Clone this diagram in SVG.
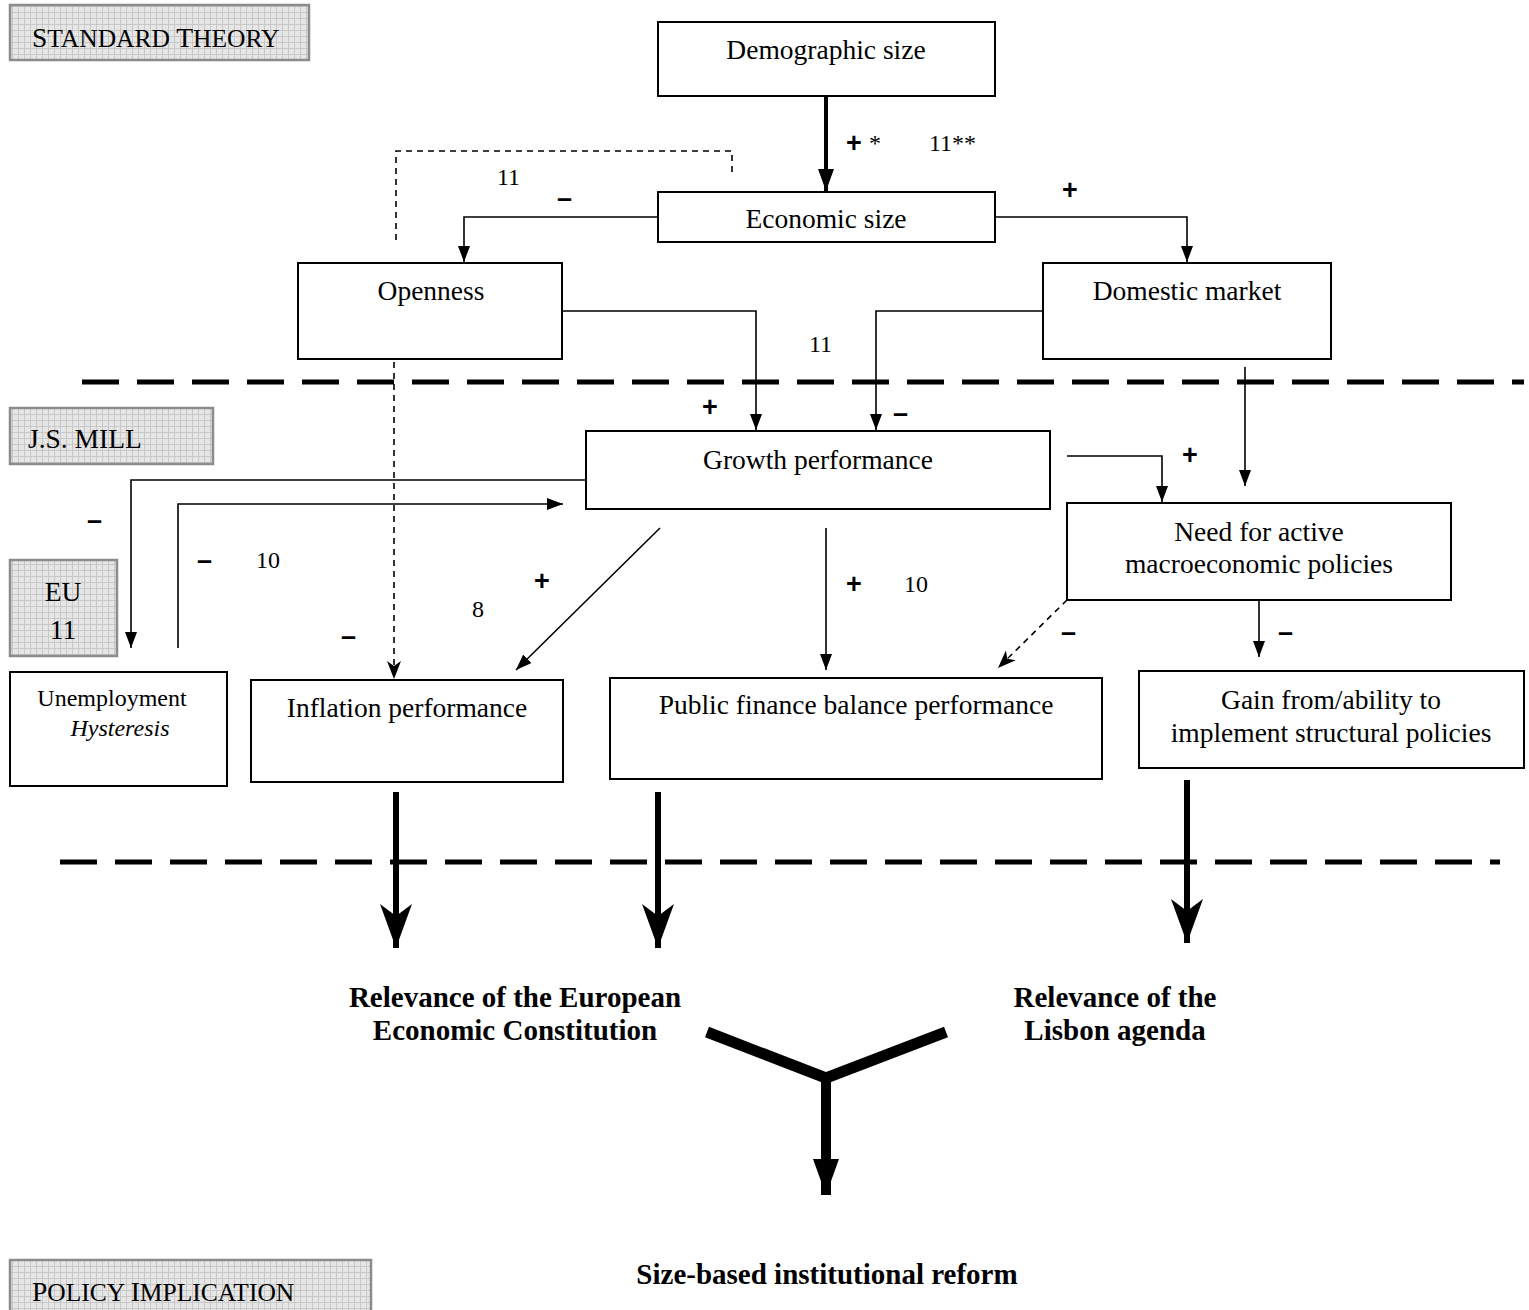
<svg xmlns="http://www.w3.org/2000/svg" width="1529" height="1310" viewBox="0 0 1529 1310">
<defs>
<pattern id="grid" width="6" height="6" patternUnits="userSpaceOnUse">
<rect width="6" height="6" fill="#e6e6e6"/>
<path d="M0,0.5 H6 M0.5,0 V6" stroke="#c8c8c8" stroke-width="1"/>
</pattern>
<marker id="ah" viewBox="0 0 16 12" markerWidth="16" markerHeight="12" refX="16" refY="6" orient="auto" markerUnits="userSpaceOnUse">
<path d="M0,0 L16,6 L0,12 z" fill="#000"/>
</marker>
<marker id="ahd" viewBox="0 0 18 14" markerWidth="18" markerHeight="14" refX="18" refY="7" orient="auto" markerUnits="userSpaceOnUse">
<path d="M0,0 L18,7 L0,14 L5,7 z" fill="#000"/>
</marker>
<marker id="ahk" viewBox="0 0 22 16" markerWidth="22" markerHeight="16" refX="22" refY="8" orient="auto" markerUnits="userSpaceOnUse">
<path d="M0,0 L22,8 L0,16 z" fill="#000"/>
</marker>
<marker id="ahb" viewBox="0 0 44 32" markerWidth="44" markerHeight="32" refX="44" refY="16" orient="auto" markerUnits="userSpaceOnUse">
<path d="M0,0 L44,16 L0,32 L12,16 z" fill="#000"/>
</marker>
<marker id="ahy" viewBox="0 0 36 26" markerWidth="36" markerHeight="26" refX="36" refY="13" orient="auto" markerUnits="userSpaceOnUse">
<path d="M0,0 L36,13 L0,26 z" fill="#000"/>
</marker>
</defs>
<style>
.lbl{fill:url(#grid);stroke:#8c8c8c;stroke-width:2.5}
.node{fill:#fff;stroke:#000;stroke-width:2}
.t{font-family:"Liberation Serif","Times New Roman",serif;font-size:27.5px;fill:#000}
.tc{text-anchor:middle}
.n{font-family:"Liberation Serif","Times New Roman",serif;font-size:24px;fill:#000}
.sm{font-family:"Liberation Serif","Times New Roman",serif;font-size:24px;fill:#000}
.b{font-family:"Liberation Serif","Times New Roman",serif;font-size:29px;font-weight:bold;fill:#000;text-anchor:middle}
.sign{font-family:"Liberation Sans",Arial,sans-serif;font-size:27px;font-weight:bold;fill:#000}
.c{fill:none;stroke:#000;stroke-width:1.6}
.cd{fill:none;stroke:#000;stroke-width:1.6;stroke-dasharray:6,5}
.sep{fill:none;stroke:#000;stroke-width:5;stroke-dasharray:37,18}
.thick{fill:none;stroke:#000;stroke-width:6}
</style>

<g id="label-standard-theory">
<rect class="lbl" x="10" y="5" width="299" height="55"/>
<text class="t" x="32" y="47" font-size="34"><tspan>S</tspan><tspan font-size="25.5">TANDARD </tspan><tspan>T</tspan><tspan font-size="25.5">HEORY</tspan></text>
</g>
<g id="label-js-mill">
<rect class="lbl" x="10" y="408" width="203" height="56"/>
<text class="t" x="28" y="448" font-size="35">J.S. MILL</text>
</g>
<g id="label-eu11">
<rect class="lbl" x="10" y="560" width="107" height="96"/>
<text class="t tc" x="63" y="601" font-size="34">EU</text>
<text class="t tc" x="63" y="639" font-size="34">11</text>
</g>
<g id="label-policy">
<rect class="lbl" x="10" y="1260" width="361" height="60"/>
<text class="t" x="32" y="1301" font-size="34"><tspan>P</tspan><tspan font-size="25.5">OLICY </tspan><tspan>I</tspan><tspan font-size="25.5">MPLICATION</tspan></text>
</g>

<g id="separators">
<line class="sep" x1="82" y1="382" x2="1524" y2="382"/>
<line class="sep" x1="60" y1="862" x2="1500" y2="862"/>
</g>

<g id="connectors">
<line x1="826" y1="96" x2="826" y2="191" stroke="#000" stroke-width="4" marker-end="url(#ahk)"/>
<path class="cd" d="M396,240 V151 H732 V172"/>
<path class="c" d="M658,217 H464 V262" marker-end="url(#ah)"/>
<path class="c" d="M995,217 H1187 V262" marker-end="url(#ah)"/>
<path class="c" d="M562,311 H756 V430" marker-end="url(#ah)"/>
<path class="c" d="M1043,311 H876 V430" marker-end="url(#ah)"/>
<path class="cd" d="M394,362 V679" marker-end="url(#ahd)"/>
<path class="c" d="M1245,367 V486" marker-end="url(#ah)"/>
<path class="c" d="M1067,456 H1162 V502" marker-end="url(#ah)"/>
<path class="c" d="M586,480 H131 V648" marker-end="url(#ah)"/>
<path class="c" d="M178,648 V504 H563" marker-end="url(#ah)"/>
<path class="c" d="M660,528 L516,670" marker-end="url(#ah)"/>
<path class="c" d="M826,528 V670" marker-end="url(#ah)"/>
<path class="cd" d="M1067,600 L998,668" marker-end="url(#ahd)"/>
<path class="c" d="M1259,600 V657" marker-end="url(#ah)"/>
<line class="thick" x1="396" y1="792" x2="396" y2="948" marker-end="url(#ahb)"/>
<line class="thick" x1="658" y1="792" x2="658" y2="948" marker-end="url(#ahb)"/>
<line class="thick" x1="1187" y1="780" x2="1187" y2="943" marker-end="url(#ahb)"/>
<path d="M707,1032 L826,1078 L946,1032" fill="none" stroke="#000" stroke-width="11"/>
<line x1="826" y1="1076" x2="826" y2="1195" stroke="#000" stroke-width="10" marker-end="url(#ahy)"/>
</g>

<g id="edge-labels">
<text class="sign" x="846" y="152">+</text>
<text class="n" x="869" y="151">*</text>
<text class="n" x="929" y="151">11**</text>
<text class="n" x="497" y="185">11</text>
<text class="sign" x="557" y="207">–</text>
<text class="sign" x="1062" y="199">+</text>
<text class="n" x="809" y="352">11</text>
<text class="sign" x="702" y="416">+</text>
<text class="sign" x="893" y="422">–</text>
<text class="sign" x="1182" y="464">+</text>
<text class="sign" x="87" y="529">–</text>
<text class="sign" x="197" y="569">–</text>
<text class="n" x="256" y="568">10</text>
<text class="sign" x="534" y="590">+</text>
<text class="n" x="472" y="617">8</text>
<text class="sign" x="846" y="593">+</text>
<text class="n" x="904" y="592">10</text>
<text class="sign" x="341" y="645">–</text>
<text class="sign" x="1061" y="641">–</text>
<text class="sign" x="1278" y="641">–</text>
</g>

<g id="node-demographic">
<rect class="node" x="658" y="22" width="337" height="74"/>
<text class="t tc" x="826" y="59">Demographic size</text>
</g>
<g id="node-economic">
<rect class="node" x="658" y="192" width="337" height="50"/>
<text class="t tc" x="826" y="228">Economic size</text>
</g>
<g id="node-openness">
<rect class="node" x="298" y="263" width="264" height="96"/>
<text class="t tc" x="431" y="300">Openness</text>
</g>
<g id="node-domestic">
<rect class="node" x="1043" y="263" width="288" height="96"/>
<text class="t tc" x="1187" y="300">Domestic market</text>
</g>
<g id="node-growth">
<rect class="node" x="586" y="431" width="464" height="78"/>
<text class="t tc" x="818" y="469">Growth performance</text>
</g>
<g id="node-need">
<rect class="node" x="1067" y="503" width="384" height="97"/>
<text class="t tc" x="1259" y="541">Need for active</text>
<text class="t tc" x="1259" y="573">macroeconomic policies</text>
</g>
<g id="node-unemployment">
<rect class="node" x="10" y="672" width="217" height="114"/>
<text class="sm tc" x="112" y="706">Unemployment</text>
<text class="sm tc" x="120" y="736" font-style="italic" font-size="22">Hysteresis</text>
</g>
<g id="node-inflation">
<rect class="node" x="251" y="680" width="312" height="102"/>
<text class="t tc" x="407" y="717">Inflation performance</text>
</g>
<g id="node-public">
<rect class="node" x="610" y="678" width="492" height="101"/>
<text class="t tc" x="856" y="714">Public finance balance performance</text>
</g>
<g id="node-gain">
<rect class="node" x="1139" y="671" width="385" height="97"/>
<text class="t tc" x="1331" y="709">Gain from/ability to</text>
<text class="t tc" x="1331" y="742">implement structural policies</text>
</g>

<g id="node-relevance-eec">
<text class="b" x="515" y="1007">Relevance of the European</text>
<text class="b" x="515" y="1040">Economic Constitution</text>
</g>
<g id="node-relevance-lisbon">
<text class="b" x="1115" y="1007">Relevance of the</text>
<text class="b" x="1115" y="1040">Lisbon agenda</text>
</g>
<g id="node-reform">
<text class="b" x="827" y="1284" font-size="32">Size-based institutional reform</text>
</g>
</svg>
